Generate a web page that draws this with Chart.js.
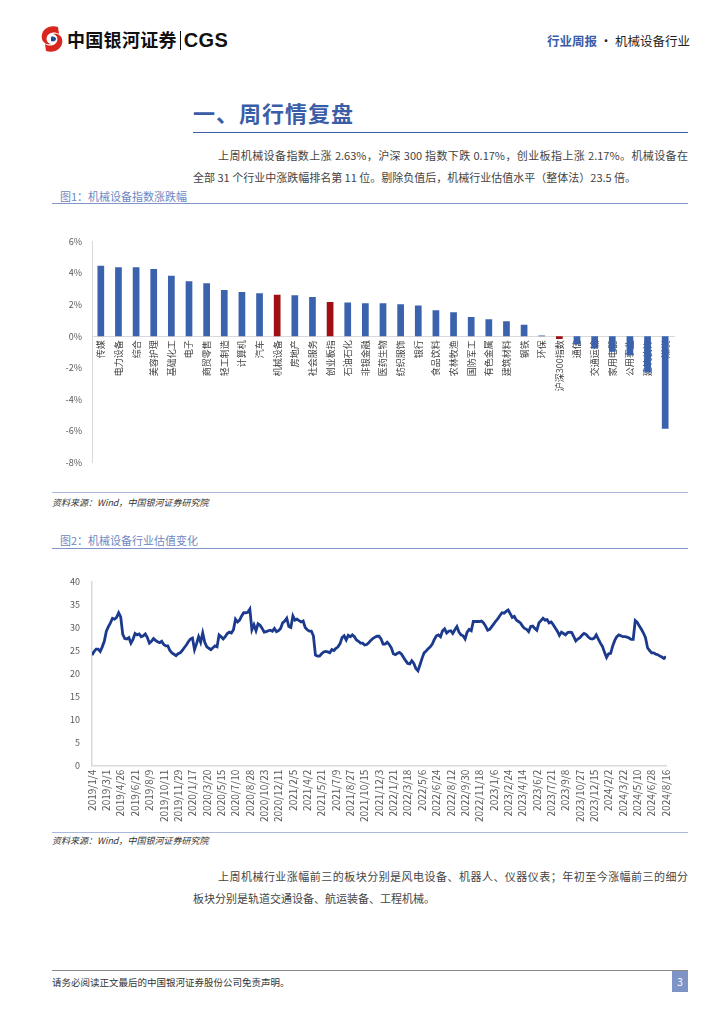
<!DOCTYPE html>
<html>
<head>
<meta charset="utf-8">
<script src="https://cdn.jsdelivr.net/npm/chart.js@4.4.1/dist/chart.umd.min.js"></script>
<style>
  body { margin: 0; width: 724px; height: 1024px; background: #fff; position: relative;
         font-family: "Noto Sans CJK SC", "DejaVu Sans", sans-serif; color: #333; overflow: hidden; }
  .abs { position: absolute; }
  .brand { left: 67px; top: 26px; font-size: 18px; font-weight: bold; color: #111; letter-spacing: 0.3px; }
  .brand .cgs { font-family: "Liberation Sans", Arial, sans-serif; font-size: 20px; }
  .brand .bar { display: inline-block; width: 1px; height: 19px; background: #111; margin: 0 3px -3px 3px; }
  .rhead { right: 34px; top: 31px; font-size: 12.5px; color: #222; }
  .rhead .blue { color: #3a5da8; font-weight: bold; }
  .title { left: 193px; top: 96px; font-size: 22px; font-weight: bold; color: #3a5da8; letter-spacing: 1px; }
  .rule { height: 0; }
  .para { left: 193px; width: 495px; font-size: 11px; color: #444; line-height: 22px; }
  .para div { text-align: justify; text-align-last: justify; }
  .para div.last { text-align-last: left; }
  .figt { left: 60px; font-size: 11px; color: #6f87bf; }
  .src { left: 52px; font-size: 9px; color: #333; font-style: italic; }
  .box { position: absolute; }
</style>
</head>
<body>
<svg class="abs" style="left:38px;top:24px" width="28" height="30" viewBox="0 0 28 30">
  <path d="M20 3 C10 0 2 7 4 15 C5 19 9 21 13 20 C8 19 7 13 11 10 C14 8 18 8 21 10 Z" fill="#d7261e"/>
  <path d="M8 27 C18 30 26 23 24 15 C23 11 19 9 15 10 C20 11 21 17 17 20 C14 22 10 22 7 20 Z" fill="#d7261e"/>
  <path d="M13 13 C15 12 18 13 18 15 C18 17 15 18 13 17 Z" fill="#1f4a9c"/>
</svg>
<div class="abs brand">中国银河证券<span class="bar"></span><span class="cgs">CGS</span></div>
<div class="abs rhead"><span class="blue">行业周报</span> · 机械设备行业</div>

<div class="abs title">一、周行情复盘</div>
<div class="abs rule" style="left:193px;top:132px;width:495px;border-top:1.5px solid #3a5da8"></div>
<div class="abs para" style="top:144px">
  <div style="text-indent:25px">上周机械设备指数上涨 2.63%，沪深 300 指数下跌 0.17%，创业板指上涨 2.17%。机械设备在</div>
  <div class="last">全部 31 个行业中涨跌幅排名第 11 位。剔除负值后，机械行业估值水平（整体法）23.5 倍。</div>
</div>

<div class="abs figt" style="top:188px">图1：机械设备指数涨跌幅</div>
<div class="abs rule" style="left:52px;top:203px;width:636px;border-top:1.5px solid #8096c8"></div>
<div class="box" style="left:50px;top:226px;width:632px;height:252px"><canvas id="bar"></canvas></div>
<div class="abs rule" style="left:52px;top:492px;width:636px;border-top:1.5px solid #a9b8dc"></div>
<div class="abs src" style="top:496px">资料来源：Wind，中国银河证券研究院</div>

<div class="abs figt" style="top:532px">图2：机械设备行业估值变化</div>
<div class="abs rule" style="left:52px;top:548px;width:636px;border-top:1.5px solid #8096c8"></div>
<div class="box" style="left:50px;top:564px;width:632px;height:262px"><canvas id="line"></canvas></div>
<div class="abs rule" style="left:52px;top:832px;width:636px;border-top:1.5px solid #a9b8dc"></div>
<div class="abs src" style="top:834px">资料来源：Wind，中国银河证券研究院</div>

<div class="abs para" style="top:865px">
  <div style="text-indent:25px">上周机械行业涨幅前三的板块分别是风电设备、机器人、仪器仪表；年初至今涨幅前三的细分</div>
  <div class="last">板块分别是轨道交通设备、航运装备、工程机械。</div>
</div>

<div class="abs rule" style="left:52px;top:970px;width:636px;border-top:1px solid #888"></div>
<div class="abs" style="left:52px;top:975px;font-size:9.5px;color:#333">请务必阅读正文最后的中国银河证券股份公司免责声明。</div>
<div class="abs" style="left:672px;top:971px;width:16px;height:21px;background:#7f94c6;color:#fff;font-size:10px;text-align:center;line-height:21px">3</div>

<script>
// 图1 data
const industries = ["传媒","电力设备","综合","美容护理","基础化工","电子","商贸零售","轻工制造","计算机","汽车",
  "机械设备","房地产","社会服务","创业板指","石油石化","非银金融","医药生物","纺织服饰","银行","食品饮料",
  "农林牧渔","国防军工","有色金属","建筑材料","钢铁","环保","沪深300指数","通信","交通运输","家用电器",
  "公用事业","建筑装饰","煤炭"];
const weeklyChange = [4.46,4.36,4.36,4.25,3.83,3.47,3.35,2.93,2.80,2.72,
  2.63,2.59,2.48,2.17,2.13,2.08,2.08,2.02,1.94,1.64,
  1.52,1.22,1.07,0.95,0.72,0.04,-0.17,-0.53,-0.78,-0.99,
  -1.20,-2.30,-5.85];
const highlight = ["机械设备","创业板指","沪深300指数"];

// 图2 data: weekly PE (TTM), one value per week from 2019/1/4 to 2024/8/16
const dateTicks = ["2019/1/4","2019/3/1","2019/4/26","2019/6/21","2019/8/9","2019/10/11","2019/11/29",
  "2020/1/17","2020/3/20","2020/5/15","2020/7/10","2020/8/28","2020/10/23","2020/12/11",
  "2021/2/5","2021/4/2","2021/5/21","2021/7/9","2021/8/27","2021/10/15","2021/12/3",
  "2022/1/21","2022/3/18","2022/5/6","2022/6/24","2022/8/12","2022/9/30","2022/11/18",
  "2023/1/6","2023/2/24","2023/4/14","2023/6/2","2023/7/21","2023/9/8","2023/10/27","2023/12/15",
  "2024/2/2","2024/3/22","2024/5/10","2024/6/28","2024/8/16"];
const peValues = [
  24.0,24.8,25.3,25.3,24.8,25.8,27.0,  29.2,30.2,31.0,32.0,31.8,32.2,33.2,
  32.3,28.5,27.6,27.5,27.8,26.6,27.4,  28.7,28.4,28.6,28.0,28.2,28.6,27.8,
  26.6,27.0,27.6,27.2,26.9,26.7,27.0,  26.3,26.0,26.0,25.0,24.5,24.2,23.9,
  24.3,24.5,25.0,25.6,26.2,26.9,27.5,  27.7,25.2,26.5,28.0,26.8,28.8,26.8,
  25.8,25.5,25.2,25.6,26.0,25.8,28.4,  28.0,27.5,28.0,28.7,29.0,28.8,29.5,
  31.8,31.2,31.6,32.5,33.2,33.2,33.3,  34.0,29.5,30.6,29.3,30.8,30.5,29.8,
  29.0,29.1,29.3,29.4,29.2,29.8,29.1,  29.3,29.8,31.0,31.4,32.0,30.2,30.0,
  32.5,31.6,31.8,31.5,31.2,31.4,30.0,  29.5,29.2,29.2,28.2,24.0,23.8,23.8,
  24.3,24.7,24.8,24.7,24.5,25.2,25.0,  25.5,25.8,26.5,27.8,28.2,27.3,28.3,
  28.0,28.4,28.0,27.3,27.0,26.6,26.6,  26.2,26.3,26.7,27.2,27.6,27.9,28.1,
  28.1,27.5,26.4,26.4,26.8,26.3,25.6,  24.3,24.1,24.4,24.6,24.2,23.5,22.8,
  22.2,22.1,22.8,22.2,21.1,20.6,21.9,  23.3,24.5,24.9,25.4,25.8,26.4,27.4,
  28.2,28.4,28.0,29.3,29.7,28.8,29.2,  29.3,28.7,29.5,30.2,29.0,28.4,28.2,
  27.5,29.0,29.6,29.3,31.3,31.3,31.3,  31.3,31.4,31.0,30.3,29.4,29.6,30.2,
  30.8,31.4,31.9,32.6,33.2,33.1,33.5,  33.8,33.0,32.2,32.4,31.6,31.3,31.0,
  30.3,29.8,29.6,29.1,30.2,30.3,29.8,  29.4,31.0,31.5,32.0,31.6,31.7,31.0,
  31.2,30.6,29.9,29.2,28.3,29.0,28.7,  28.4,28.9,29.0,28.9,28.0,27.1,27.5,
  27.8,28.3,28.7,28.5,28.0,27.6,27.5,  27.7,28.4,27.5,26.6,25.9,24.6,23.5,
  24.3,24.4,26.0,27.2,28.0,28.4,28.2,  28.0,28.0,27.9,27.7,27.4,27.4,31.5,
  31.1,30.3,29.6,28.8,27.8,25.6,25.0,  24.5,24.5,24.2,24.1,23.8,23.6,23.3,
  23.7];
const weeksPerTick = 7;

Chart.defaults.font.family = '"Noto Sans CJK SC", "DejaVu Sans", sans-serif';
Chart.defaults.animation = false;

const axisGray = '#d9d9d9';
const tickGray = '#595959';

new Chart(document.getElementById('bar'), {
    type: 'bar',
    data: {
        labels: industries,
        datasets: [{
            data: weeklyChange,
            backgroundColor: industries.map(n => highlight.includes(n) ? '#a00f12' : '#3b62ad'),
            barPercentage: 0.38,
            categoryPercentage: 1,
        }],
    },
    options: {
        responsive: true,
        maintainAspectRatio: false,
        layout: { padding: { left: 0, right: 8, top: 8, bottom: 10 } },
        plugins: { legend: { display: false }, tooltip: { enabled: false } },
        scales: {
            x: {
                position: { y: 0 },
                grid: { display: false, drawTicks: false },
                border: { color: axisGray },
                ticks: { autoSkip: false, maxRotation: 90, minRotation: 90, padding: 4,
                         color: '#404040', font: { size: 9 } },
            },
            y: {
                min: -8, max: 6,
                grid: { display: false, drawTicks: false },
                border: { color: axisGray },
                ticks: { stepSize: 2, padding: 10, color: tickGray, font: { size: 9 },
                         callback: v => v + '%' },
                afterFit: s => { s.width = 42; },
            },
        },
    },
});

new Chart(document.getElementById('line'), {
    type: 'line',
    data: {
        datasets: [{
            data: peValues.map((v, i) => ({ x: i, y: v })),
            borderColor: '#1b3a8e',
            borderWidth: 2.8,
            pointRadius: 0,
            tension: 0,
        }],
    },
    options: {
        responsive: true,
        maintainAspectRatio: false,
        layout: { padding: { left: 0, right: 16, top: 14, bottom: 0 } },
        plugins: { legend: { display: false }, tooltip: { enabled: false } },
        scales: {
            x: {
                type: 'linear',
                min: 0, max: (dateTicks.length - 1) * weeksPerTick,
                grid: { display: false, drawTicks: false },
                border: { color: axisGray, width: 1.5 },
                ticks: { stepSize: weeksPerTick, autoSkip: false, maxTicksLimit: 100,
                         maxRotation: 90, minRotation: 90, padding: 4,
                         color: tickGray, font: { size: 10 },
                         callback: v => dateTicks[Math.round(v / weeksPerTick)] },
            },
            y: {
                min: 0, max: 40,
                grid: { display: false, drawTicks: false },
                border: { color: axisGray, width: 1.5 },
                ticks: { stepSize: 5, padding: 12, color: tickGray, font: { size: 9 } },
                afterFit: s => { s.width = 42; },
            },
        },
    },
});
</script>
</body>
</html>
